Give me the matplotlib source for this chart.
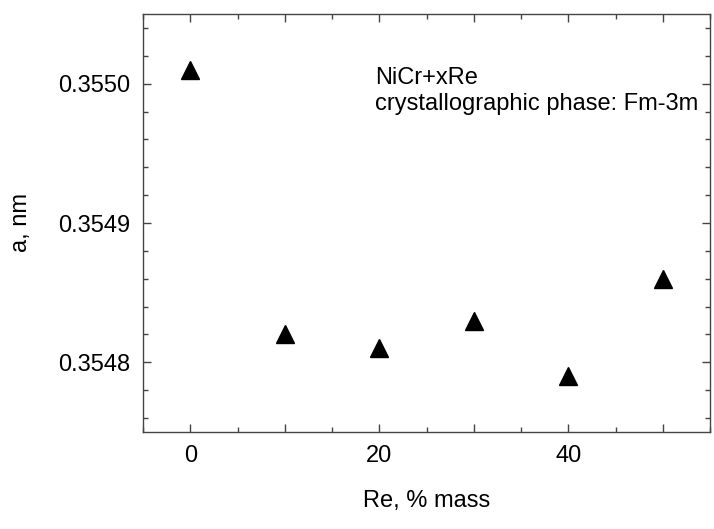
import numpy as np
import matplotlib
matplotlib.use("Agg")
import matplotlib.pyplot as plt
from matplotlib.ticker import MultipleLocator, FuncFormatter

plt.rcParams['font.family'] = ['Liberation Sans', 'DejaVu Sans']

# data
re_mass = [0, 10, 20, 30, 40, 50]
lattice_a = [0.35501, 0.35482, 0.35481, 0.35483, 0.35479, 0.35486]

fig = plt.figure(figsize=(7.14, 5.29), dpi=100)
ax = fig.add_axes([143 / 714, 1 - 432 / 529, (710 - 143) / 714, (432 - 14) / 529])

ax.plot(re_mass, lattice_a, linestyle='none', marker='^', markersize=12.5,
        color='black')

ax.set_xlim(-5, 55)
ax.set_ylim(0.35475, 0.35505)

ax.xaxis.set_major_locator(MultipleLocator(10))
ax.xaxis.set_minor_locator(MultipleLocator(5))
ax.xaxis.set_major_formatter(FuncFormatter(
    lambda v, p: '%d' % round(v) if round(v) % 20 == 0 else ''))
ax.yaxis.set_major_locator(MultipleLocator(0.0001))
ax.yaxis.set_minor_locator(MultipleLocator(0.00002))
ax.yaxis.set_major_formatter(FuncFormatter(lambda v, p: '%.4f' % v))

edge = '#444444'
for s in ax.spines.values():
    s.set_color(edge)
    s.set_linewidth(1.0)
ax.tick_params(which='both', direction='in', top=True, right=True,
               color=edge, width=1.0, labelsize=17, pad=9)
ax.tick_params(which='major', length=6)
ax.tick_params(which='minor', length=3.5)

ax.set_xlabel('Re, % mass', fontsize=17, labelpad=17)
ax.set_ylabel('a, nm', fontsize=17, labelpad=19)

# annotation, two lines placed on their baselines
ax.text(0.409, 0.8325, 'NiCr+xRe', transform=ax.transAxes, fontsize=17,
        ha='left', va='baseline')
ax.text(0.409, 0.7703, 'crystallographic phase: Fm-3m', transform=ax.transAxes,
        fontsize=17, ha='left', va='baseline')

fig.savefig('out.png', dpi=100)
